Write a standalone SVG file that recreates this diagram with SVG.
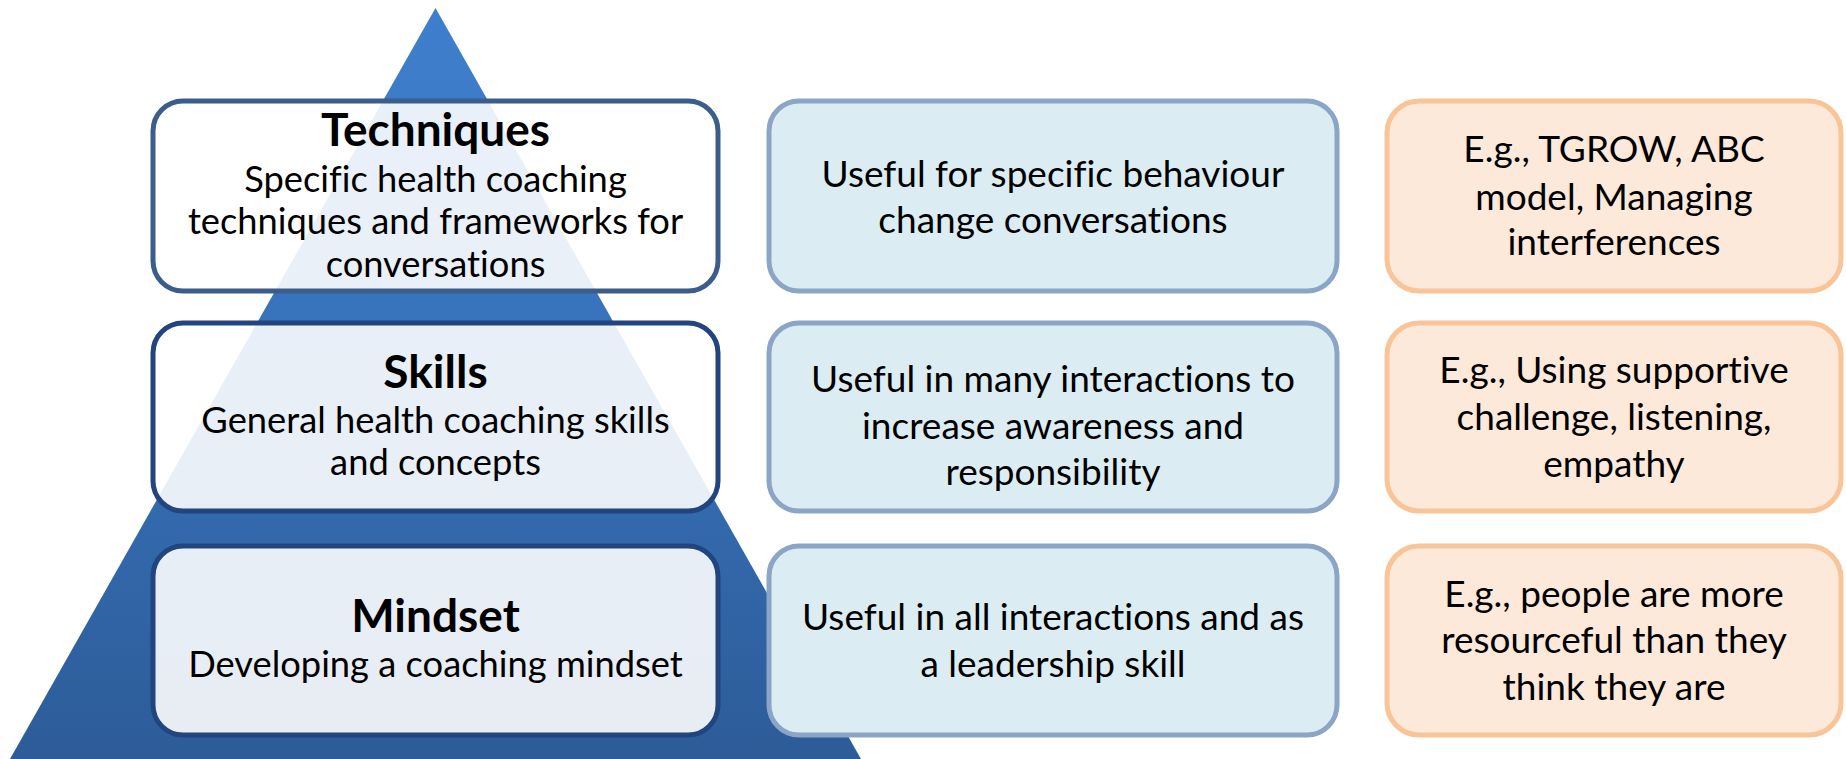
<svg xmlns="http://www.w3.org/2000/svg" width="1846" height="759" viewBox="0 0 1846 759">
  <defs>
    <linearGradient id="pyramidFill" x1="0" y1="0" x2="0" y2="1">
      <stop offset="0" stop-color="#3e7fcd"/>
      <stop offset="0.5" stop-color="#3670b8"/>
      <stop offset="1" stop-color="#2d5c98"/>
    </linearGradient>
  </defs>
  <style>
    .txt { font-family: Lato, "Liberation Sans", sans-serif; fill: #000; text-anchor: middle; font-variant-ligatures: none; }
    .title { font-size: 46px; font-weight: bold; }
    .body { font-size: 36.3px; }
    .side { font-size: 37px; }
    .level { fill: #ffffff; fill-opacity: 0.89; stroke-width: 5; }
    .use { fill: #dbedf3; stroke: #8aa5c5; stroke-width: 5; }
    .example { fill: #fde9da; stroke: #f8c498; stroke-width: 5; }
  </style>
  <rect width="1846" height="759" fill="#ffffff"/>

  <!-- background pyramid -->
  <polygon id="pyramid" points="435.5,8 861,759 10,759" fill="url(#pyramidFill)"/>

  <!-- connectors: none in this layout -->
  <g id="connectors"/>

  <!-- left column: coaching levels -->
  <g id="techniques">
    <rect class="level" x="153" y="101" width="565" height="190" rx="30" stroke="#3a5d8c"/>
    <text class="txt title" x="435.5" y="146">Techniques</text>
    <text class="txt body" x="435.5" y="192">Specific health coaching</text>
    <text class="txt body" x="435.5" y="234">techniques and frameworks for</text>
    <text class="txt body" x="435.5" y="277">conversations</text>
  </g>
  <g id="skills">
    <rect class="level" x="153" y="323" width="565" height="188" rx="30" stroke="#22447f"/>
    <text class="txt title" x="435.5" y="388">Skills</text>
    <text class="txt body" x="435.5" y="433">General health coaching skills</text>
    <text class="txt body" x="435.5" y="475">and concepts</text>
  </g>
  <g id="mindset">
    <rect class="level" x="153" y="546" width="565" height="189" rx="30" stroke="#22447f"/>
    <text class="txt title" x="435.5" y="632">Mindset</text>
    <text class="txt body" x="435.5" y="677">Developing a coaching mindset</text>
  </g>

  <!-- middle column: where each level is useful -->
  <g id="use-techniques">
    <rect class="use" x="769" y="101" width="568" height="190" rx="30"/>
    <text class="txt side" x="1053" y="187">Useful for specific behaviour</text>
    <text class="txt side" x="1053" y="233">change conversations</text>
  </g>
  <g id="use-skills">
    <rect class="use" x="769" y="323" width="568" height="188" rx="30"/>
    <text class="txt side" x="1053" y="392">Useful in many interactions to</text>
    <text class="txt side" x="1053" y="439">increase awareness and</text>
    <text class="txt side" x="1053" y="485">responsibility</text>
  </g>
  <g id="use-mindset">
    <rect class="use" x="769" y="546" width="568" height="189" rx="30"/>
    <text class="txt side" x="1053" y="630">Useful in all interactions and as</text>
    <text class="txt side" x="1053" y="677">a leadership skill</text>
  </g>

  <!-- right column: examples -->
  <g id="example-techniques">
    <rect class="example" x="1387" y="101" width="454" height="190" rx="32"/>
    <text class="txt side" x="1614" y="162">E.g., TGROW, ABC</text>
    <text class="txt side" x="1614" y="210">model, Managing</text>
    <text class="txt side" x="1614" y="255">interferences</text>
  </g>
  <g id="example-skills">
    <rect class="example" x="1387" y="323" width="454" height="188" rx="32"/>
    <text class="txt side" x="1614" y="383">E.g., Using supportive</text>
    <text class="txt side" x="1614" y="430">challenge, listening,</text>
    <text class="txt side" x="1614" y="477">empathy</text>
  </g>
  <g id="example-mindset">
    <rect class="example" x="1387" y="546" width="454" height="189" rx="32"/>
    <text class="txt side" x="1614" y="607">E.g., people are more</text>
    <text class="txt side" x="1614" y="653">resourceful than they</text>
    <text class="txt side" x="1614" y="700">think they are</text>
  </g>
</svg>
